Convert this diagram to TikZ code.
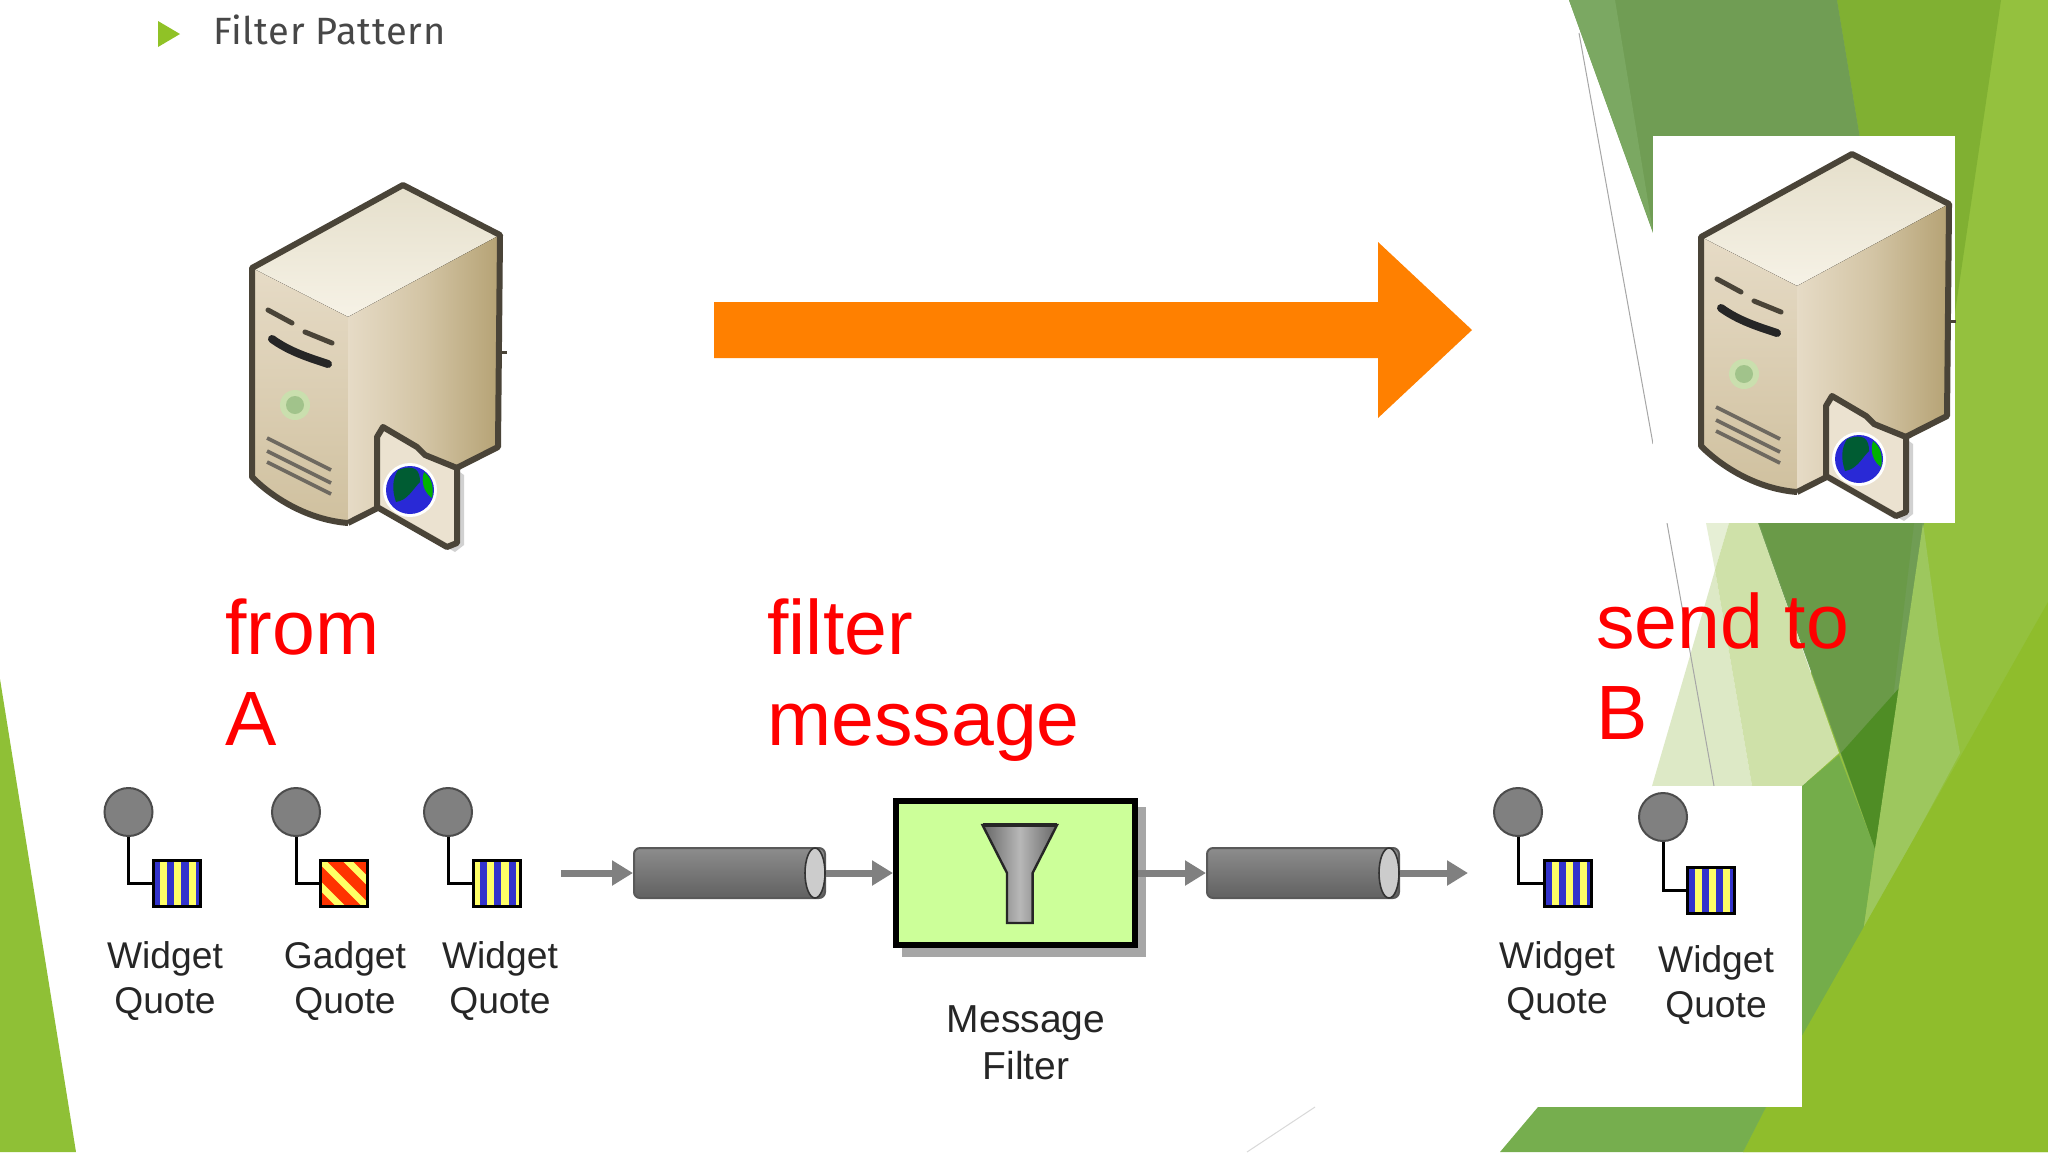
\documentclass[tikz,border=0pt]{standalone}
\usepackage{fontspec}
\setmainfont{Liberation Sans}
\newfontfamily\titlefont{Fira Sans}[LetterSpace=2]
\usetikzlibrary{arrows.meta,calc,shapes.geometric}
\definecolor{msgblue}{HTML}{3333CC}
\definecolor{msgyellow}{HTML}{FFFF66}
\definecolor{msgred}{HTML}{FF3300}
\definecolor{caseline}{HTML}{4A4438}
\definecolor{caselight}{HTML}{F6F2E6}
\definecolor{casetop}{HTML}{E5DFCB}
\definecolor{casemid}{HTML}{E6DBC6}
\definecolor{casetan}{HTML}{C6B58E}
\definecolor{casedark}{HTML}{B5A274}
\tikzset{
	flow/.style={draw=black!50,line width=3.5pt,-{Triangle[length=10.5pt,width=12pt]}},
	stem/.style={draw=black,line width=1.5pt},
	ball/.style={circle,draw=black!70,line width=1pt,fill=black!50,minimum size=24pt,inner sep=0pt},
	msgbody/.style={rectangle,draw=black,line width=1.5pt,minimum width=23.5pt,minimum height=23pt,inner sep=0pt},
	widget/.style={msgbody,fill=msgblue,
		path picture={\foreach \i in {#1}
			\fill[msgyellow] ($(path picture bounding box.north west)+(\i*7.1,0)$) rectangle +(7.1,60);}},
	widget/.default={0,2,4,6},
	gadget/.style={msgbody,fill=msgred,
		path picture={\foreach \i in {-2,...,2}
			\draw[msgyellow,line width=3.5pt] ($(path picture bounding box.center)+(-40+\i*26,-40)$) -- +(80,80);}},
	caption/.style={font=\fontsize{18.6}{22.5}\selectfont,align=center,text=black!85},
	remark/.style={font=\fontsize{38.5}{45.5}\selectfont,align=left,text=red,inner sep=0pt},
	channel/.style={rectangle,rounded corners=3pt,draw=black!65,line width=1pt,minimum height=25pt,inner sep=0pt,
		top color=black!45,middle color=black!30,bottom color=black!62},
	chancap/.style={ellipse,draw=black!80,line width=.8pt,fill=black!20,minimum width=10pt,minimum height=25pt,inner sep=0pt},
	pics/server/.style={code={
		% cabinet
		\fill[top color=casetop,bottom color=caselight] (252,268) -- (403,185) -- (500,235) -- (348,317) -- cycle;
		\fill[top color=casemid,bottom color=casetan!70!casemid] (252,268) -- (348,317) -- (348,523) .. controls (310,520) and (275,500) .. (252,477) -- cycle;
		\fill[left color=casemid,right color=casedark,middle color=casetan!60!casemid] (348,317) -- (500,235) -- (498,447) -- (348,523) -- cycle;
		\draw[caseline,line width=3pt,line join=round] (348,523) .. controls (310,520) and (275,500) .. (252,477) -- (252,268) -- (403,185) -- (500,235) -- (498,447) -- (348,523);
		\draw[caseline,line width=1.5pt] (500,352) -- (507,352);
		% slots and vents
		\draw[caseline,line width=2.5pt,line cap=round] (268,310) -- (292,323);
		\draw[caseline,line width=2.5pt,line cap=round] (305,332) -- (332,343);
		\draw[black!85,line width=4pt,line cap=round] (272,339) .. controls (290,352) and (310,358) .. (328,364);
		\fill[green!12!casemid] (295,405) circle (15);
		\fill[black!45!green!30!casemid] (295,405) circle (9);
		\foreach \i in {0,13,24}
			\draw[caseline!80,line width=1.8pt] (267,438+\i) -- (331,470+\i);
		% folder with the globe
		\fill[black!18] (385,512) -- (455,552) -- (464,545) -- (464,475) -- (457,470) -- (457,543) -- (447,547) -- cycle;
		\draw[caseline,line width=3pt,line join=round,fill=casemid!70!caselight] (377,437) -- (383,427) -- (417,447) -- (425,455) -- (457,468) -- (457,543) -- (447,547) -- (377,507) -- cycle;
		\fill[white] (410,490) circle (27);
		\fill[msgblue!80!blue] (410,490) circle (24);
		\fill[green!45!black!80!blue] (398,470) .. controls (415,464) and (420,470) .. (420,482) .. controls (412,490) and (408,500) .. (396,502) .. controls (392,490) and (392,480) .. (398,470) -- cycle;
		\fill[green!70!black] (424,472) .. controls (432,478) and (434,488) .. (432,498) .. controls (426,494) and (420,484) .. (424,472) -- cycle;
	}}
}
\begin{document}
\begin{tikzpicture}[x=.5pt,y=-.5pt]
	\useasboundingbox (0,0) rectangle (2048,1152);
	% slide background
	\fill[white] (0,0) rectangle (2048,1152);
	\fill[fill={rgb,255:red,143;green,192;blue,54}] (0,679) -- (76,1152) -- (0,1152) -- cycle;
	\fill[fill={rgb,255:red,148;green,193;blue,62}] (1837,0) -- (2048,0) -- (2048,1152) -- (1743,1152) -- (1802,900) -- cycle;
	\fill[fill={rgb,255:red,128;green,176;blue,50}] (1837,0) -- (2001,0) -- (1924,523) -- cycle;
	\fill[fill={rgb,255:red,112;green,157;blue,84}] (1569,0) -- (1837,0) -- (1924,523) -- (1875,849) -- cycle;
	\fill[fill={rgb,255:red,106;green,154;blue,72}] (1730,440) -- (1924,440) -- (1875,849) -- cycle;
	\fill[fill={rgb,255:red,123;green,168;blue,98}] (1569,0) -- (1615,0) -- (1653,232) -- cycle;
	\fill[fill={rgb,255:red,230;green,239;blue,213}] (1706,523) -- (1729,523) -- (1715,570) -- cycle;
	\fill[fill={rgb,255:red,221;green,233;blue,198}] (1715,570) -- (1752,786) -- (1652,786) -- cycle;
	\fill[fill={rgb,255:red,207;green,225;blue,169}] (1729,523) -- (1758,523) -- (1839,753) -- (1802,786) -- (1752,786) -- (1715,570) -- cycle;
	\fill[fill={rgb,255:red,116;green,173;blue,74}] (1839,755) -- (1875,849) -- (1863,933) -- (1802,1036) -- (1802,786) -- cycle;
	\fill[fill={rgb,255:red,79;green,141;blue,37}] (1841,753) -- (1900,687) -- (1875,849) -- cycle;
	\fill[fill={rgb,255:red,157;green,199;blue,94}] (1923,523) -- (1939,639) -- (1960,753) -- (1863,933) -- (1875,849) -- cycle;
	\fill[fill={rgb,255:red,143;green,189;blue,44}] (2048,602) -- (2048,1152) -- (1743,1152) -- (1766,1107) -- (1802,1107) -- (1802,1036) -- cycle;
	\fill[fill={rgb,255:red,118;green,174;blue,78}] (1538,1107) -- (1766,1107) -- (1743,1152) -- (1500,1152) -- cycle;
	\draw[black!35,line width=.5pt] (1579,33) -- (1653,444);
	\draw[black!35,line width=.5pt] (1667,523) -- (1714,786);
	\draw[black!15,line width=.5pt] (1247,1152) -- (1315,1107);
	\fill[white] (1653,136) rectangle (1955,523);
	\fill[white] (1653,786) rectangle (1802,1107);
	% title
	\fill[fill={rgb,255:red,144;green,194;blue,38}] (158,21) -- (180,34) -- (158,47) -- cycle;
	\node (title) [anchor=base west,inner sep=0pt,font=\titlefont\fontsize{19}{23}\selectfont,text=black!72] at (213,44) {Filter Pattern};
	% servers and the big arrow
	\pic at (0,0) {server};
	\pic at (1449,-31) {server};
	\fill[fill={rgb,255:red,255;green,128;blue,0}] (714,302) -- (1378,302) -- (1378,242) -- (1472,330) -- (1378,418) -- (1378,358) -- (714,358) -- cycle;
	% red remarks
	\node (from) [remark,anchor=north west] at (225,598.5) {from\\A};
	\node (filtermsg) [remark,anchor=north west] at (767,598.5) {filter\\message};
	\node (sendto) [remark,anchor=north west] at (1596,592.5) {send to\\B};
	% messages
	\node (ball1) [ball] at (128.5,812) {};
	\node (ball2) [ball] at (296,812) {};
	\node (ball3) [ball] at (448,812) {};
	\node (ball4) [ball] at (1518,812) {};
	\node (ball5) [ball] at (1663,817) {};
	\node (msg1) [widget={1,3,5}] at (176.5,883.5) {};
	\node (msg2) [gadget] at (344,883.5) {};
	\node (msg3) [widget] at (496.5,883.5) {};
	\node (msg4) [widget={1,3,5}] at (1568,883.5) {};
	\node (msg5) [widget={1,3,5}] at (1711,890) {};
	\draw[stem] (ball1.south) |- (msg1.west);
	\draw[stem] (ball2.south) |- (msg2.west);
	\draw[stem] (ball3.south) |- (msg3.west);
	\draw[stem] (ball4.south) |- (msg4.west);
	\draw[stem] (ball5.south) |- (msg5.west);
	\node (cap1) [caption] at (165,981) {Widget\\Quote};
	\node (cap2) [caption] at (345,981) {Gadget\\Quote};
	\node (cap3) [caption] at (500,981) {Widget\\Quote};
	\node (cap4) [caption] at (1557,981) {Widget\\Quote};
	\node (cap5) [caption] at (1716,985) {Widget\\Quote};
	% channels and the filter
	\coordinate (in) at (561,873);
	\coordinate (out) at (1468,873);
	\node (chan1) [channel,minimum width=95.5pt] at (729.5,873) {};
	\node (end1) [chancap] at (815,873) {};
	\node (chan2) [channel,minimum width=96pt] at (1303,873) {};
	\node (end2) [chancap] at (1389,873) {};
	\node (shadow) [rectangle,fill=black!35,minimum width=122pt,minimum height=75pt,inner sep=0pt] at (1024,882) {};
	\node (filter) [rectangle,draw=black,line width=3pt,fill={rgb,255:red,204;green,255;blue,153},minimum width=119.25pt,minimum height=72pt,inner sep=0pt] at (1015.25,873) {};
	\draw[black!85,line width=1.2pt,left color=black!60,right color=black!60,middle color=black!28] (982.5,825) -- (1057,825) -- (1032.6,873) -- (1032.6,923) -- (1007,923) -- (1007,873) -- cycle;
	\draw[black!85,line width=2pt] (982.5,825) -- (1057,825);
	\draw[flow] (in) -- (chan1);
	\draw[flow] (end1) -- (filter);
	\draw[flow] (filter) -- (chan2);
	\draw[flow] (end2) -- (out);
	\node (cap6) [caption,font=\fontsize{19.5}{23.5}\selectfont] at (1026,1043) {Message\\Filter};
\end{tikzpicture}
\end{document}
